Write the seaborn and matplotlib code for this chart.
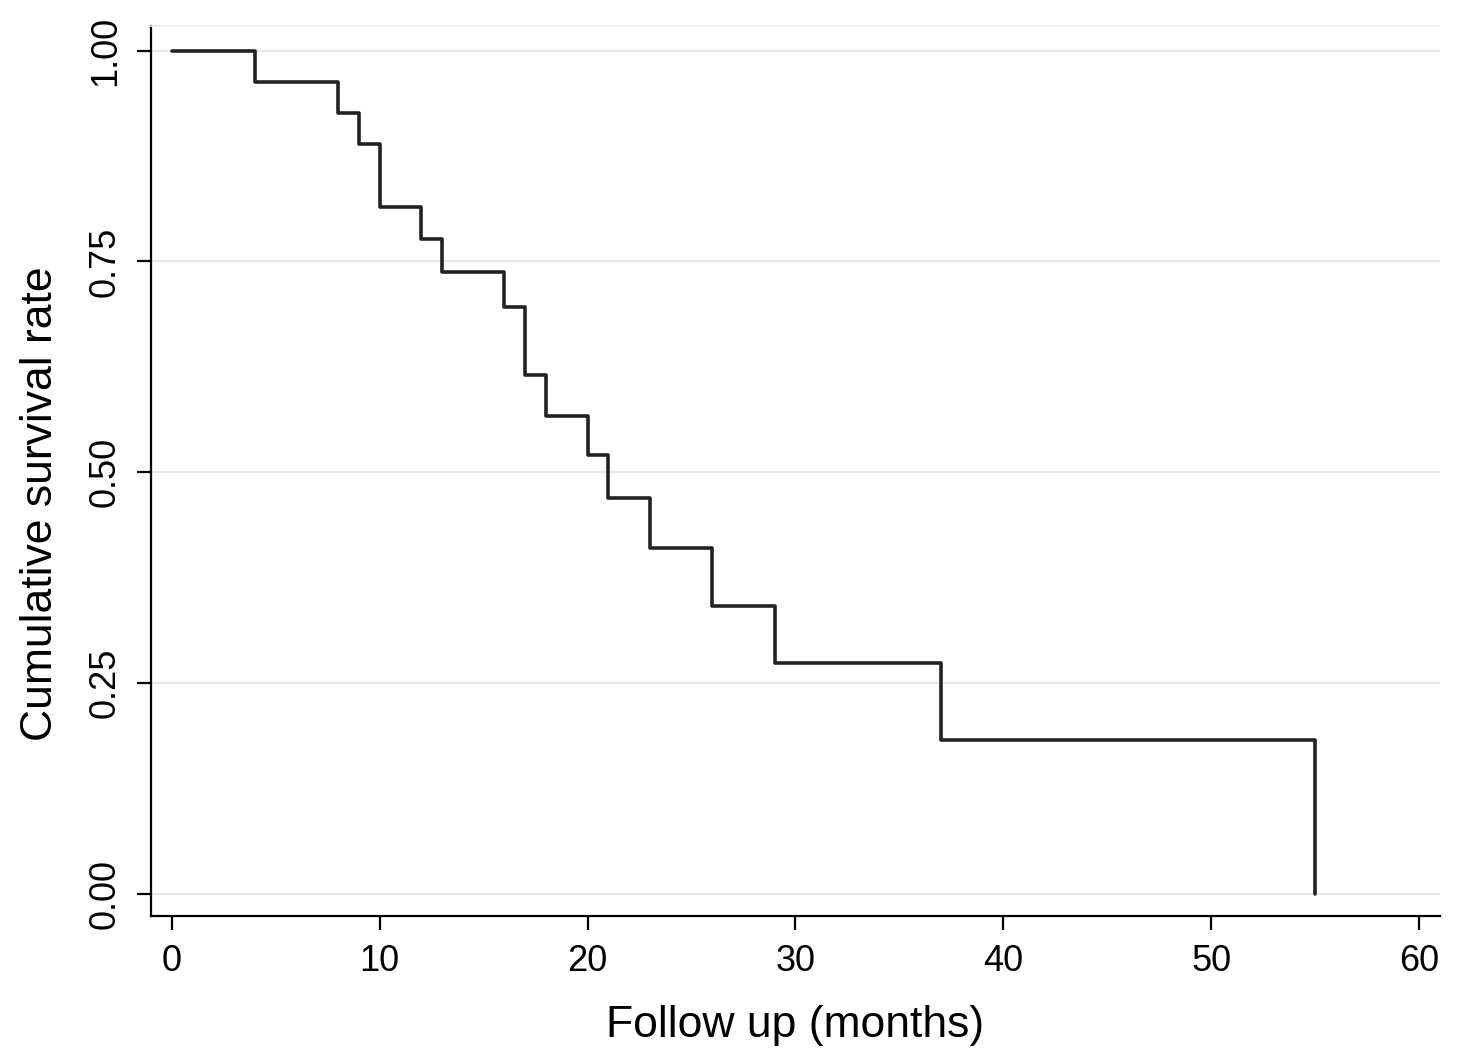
import pandas as pd
import numpy as np
import seaborn as sns
import matplotlib.pyplot as plt

# Kaplan-Meier step values
months = [0, 4, 8, 9, 10, 12, 13, 16, 17, 18, 20, 21, 23, 26, 29, 37, 55]
survival = [1.000, 0.963, 0.926, 0.889, 0.815, 0.777, 0.737, 0.696, 0.615,
            0.567, 0.520, 0.469, 0.410, 0.341, 0.274, 0.182, 0.000]

x_ticks = [0, 10, 20, 30, 40, 50, 60]
y_ticks = [0.00, 0.25, 0.50, 0.75, 1.00]

df = pd.DataFrame({'months': months, 'survival': survival})

sns.set_theme(style="white")
plt.rcParams['font.family'] = ['Liberation Sans', 'DejaVu Sans']
plt.rcParams['text.color'] = 'black'
plt.rcParams['axes.labelcolor'] = 'black'
plt.rcParams['xtick.color'] = 'black'
plt.rcParams['ytick.color'] = 'black'

fig = plt.figure(figsize=(14.65, 10.63), dpi=100)
ax = fig.add_axes([0.103, 0.138, 0.880, 0.838])

sns.lineplot(data=df, x='months', y='survival', estimator=None, sort=True,
             drawstyle='steps-post', color='#222222', linewidth=2.6, ax=ax)

ax.set_xlim(-1, 61)
ax.set_ylim(-0.027, 1.03)
ax.set_xticks(x_ticks)
ax.set_yticks(y_ticks)
ax.set_yticklabels([f"{v:.2f}" for v in y_ticks], rotation=90, va='center')
ax.set_xticklabels([str(v) for v in x_ticks])

# light horizontal grid
ax.yaxis.grid(True, color='#e8e8e8', linewidth=1.6)
ax.xaxis.grid(False)
ax.set_axisbelow(True)

for side in ['left', 'bottom']:
    ax.spines[side].set_color('black')
    ax.spines[side].set_linewidth(1.6)
ax.spines['right'].set_visible(False)
ax.spines['top'].set_color('#eeeeee')
ax.spines['top'].set_linewidth(1.2)

ax.tick_params(axis='both', which='major', direction='out', length=10, width=1.6,
               color='black', labelsize=26, pad=10, left=True, bottom=True)

ax.set_xlabel("Follow up (months)", fontsize=32, labelpad=19)
ax.set_ylabel("Cumulative survival rate", fontsize=32)
ax.yaxis.set_label_coords(-0.07, 0.463)

plt.savefig('out.png', dpi=100)
